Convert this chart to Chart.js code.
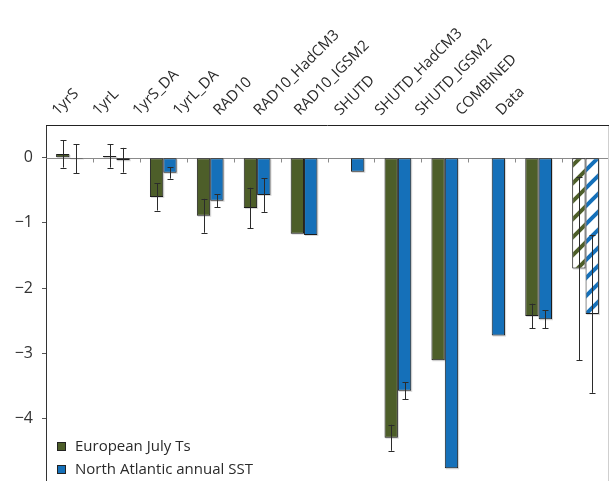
<!DOCTYPE html>
<html>
<head>
<meta charset="utf-8">
<script src="https://cdn.jsdelivr.net/npm/chart.js@4/dist/chart.umd.min.js"></script>
<style>
  html, body { margin: 0; padding: 0; background: #fff; overflow: hidden; }
  #wrap { width: 609px; height: 484px; }
</style>
</head>
<body>
<div id="wrap"><canvas id="c" width="609" height="484"></canvas></div>
<script>
// Experiments and the observed record
const categories = ['1yrS', '1yrL', '1yrS_DA', '1yrL_DA', 'RAD10', 'RAD10_HadCM3',
  'RAD10_IGSM2', 'SHUTD', 'SHUTD_HadCM3', 'SHUTD_IGSM2', 'COMBINED', 'Data'];
const seriesNames = ['European July Ts', 'North Atlantic annual SST'];
const yTickValues = [0, -1, -2, -3, -4];

// Anomalies (°C) for each series
const europeanJulyTs = [0.06, 0.03, -0.60, -0.89, -0.77, -1.165, null, -4.30, -3.11, null, -2.43, -1.70];
const northAtlanticSST = [-0.015, -0.037, -0.23, -0.66, -0.57, -1.185, -0.215, -3.58, -4.77, -2.73, -2.48, -2.40];

// Half-width of the uncertainty range (null = no bar)
const europeanErr = [0.21, 0.18, 0.21, 0.26, 0.31, null, null, 0.20, null, null, 0.19, 1.41];
const northAtlanticErr = [0.225, 0.19, 0.09, 0.10, 0.26, null, null, 0.13, null, null, 0.14, 1.21];

const GREEN = '#4d5e29';
const BLUE = '#1570b9';
const FONT = 'Open Sans, Lato, sans-serif';
const HATCHED_INDEX = categories.indexOf('Data');

function hatch(color) {
  const s = 18;
  const c = document.createElement('canvas');
  c.width = s; c.height = s;
  const g = c.getContext('2d');
  g.fillStyle = '#fff';
  g.fillRect(0, 0, s, s);
  g.strokeStyle = color;
  g.lineWidth = 4;
  g.beginPath();
  g.moveTo(-3, s + 3); g.lineTo(s + 3, -3);
  g.moveTo(-3, 3); g.lineTo(3, -3);
  g.moveTo(s - 3, s + 3); g.lineTo(s + 3, s - 3);
  g.stroke();
  return g.createPattern(c, 'repeat');
}
const greenHatch = hatch(GREEN);
const blueHatch = hatch(BLUE);

const errors = [europeanErr, northAtlanticErr];

// Light drop shadow under each bar
const barShadow = {
  id: 'barShadow',
  beforeDatasetsDraw(chart) {
    const ctx = chart.ctx;
    ctx.save();
    ctx.fillStyle = 'rgba(0,0,0,0.15)';
    chart.data.datasets.forEach((ds, di) => {
      chart.getDatasetMeta(di).data.forEach((bar, i) => {
        if (ds.data[i] == null) return;
        const p = bar.getProps(['x', 'y', 'base', 'width'], true);
        const top = Math.min(p.y, p.base), bot = Math.max(p.y, p.base);
        ctx.fillRect(p.x - p.width / 2 + 1, top + 1, p.width, bot - top);
      });
    });
    ctx.restore();
  }
};

// Zero line with small marks between the categories, plus frame lines
const frame = {
  id: 'frame',
  beforeDatasetsDraw(chart) {
    const { ctx, chartArea: a } = chart;
    const x = chart.scales.x, y = chart.scales.y;
    const y0 = Math.round(y.getPixelForValue(0)) + 0.5;
    ctx.save();
    ctx.strokeStyle = '#8a8a8a';
    ctx.lineWidth = 1;
    ctx.beginPath();
    ctx.moveTo(a.left, y0); ctx.lineTo(a.right, y0);
    for (let i = 1; i < categories.length; i++) {
      const bx = Math.round((x.getPixelForValue(i - 1) + x.getPixelForValue(i)) / 2) + 0.5;
      ctx.moveTo(bx, y0); ctx.lineTo(bx, y0 + 4);
    }
    ctx.stroke();
    ctx.strokeStyle = '#cfcfcf';
    ctx.beginPath();
    ctx.moveTo(a.right - 0.5, a.top); ctx.lineTo(a.right - 0.5, a.bottom);
    ctx.stroke();
    ctx.strokeStyle = '#222';
    ctx.beginPath();
    ctx.moveTo(a.left, Math.round(a.top) + 0.5); ctx.lineTo(a.right, Math.round(a.top) + 0.5);
    ctx.stroke();
    ctx.restore();
  }
};

// Error bars centred on each bar
const errorBars = {
  id: 'errorBars',
  afterDatasetsDraw(chart) {
    const ctx = chart.ctx;
    const y = chart.scales.y;
    ctx.save();
    ctx.strokeStyle = '#2b2b2b';
    ctx.lineWidth = 1;
    chart.data.datasets.forEach((ds, di) => {
      chart.getDatasetMeta(di).data.forEach((bar, i) => {
        const v = ds.data[i], e = errors[di][i];
        if (v == null || e == null) return;
        const cx = Math.round(bar.x) + 0.5;
        const yt = y.getPixelForValue(v + e), yb = y.getPixelForValue(v - e);
        ctx.beginPath();
        ctx.moveTo(cx, yt); ctx.lineTo(cx, yb);
        ctx.moveTo(cx - 3, Math.round(yt) + 0.5); ctx.lineTo(cx + 3, Math.round(yt) + 0.5);
        ctx.moveTo(cx - 3, Math.round(yb) + 0.5); ctx.lineTo(cx + 3, Math.round(yb) + 0.5);
        ctx.stroke();
      });
    });
    ctx.restore();
  }
};

// Legend in the lower-left corner of the plot
const cornerLegend = {
  id: 'cornerLegend',
  afterDraw(chart) {
    const { ctx, chartArea: a } = chart;
    const colors = [GREEN, BLUE];
    ctx.save();
    ctx.font = '15px ' + FONT;
    ctx.textBaseline = 'middle';
    ctx.textAlign = 'left';
    seriesNames.forEach((name, i) => {
      const cy = 446.5 + i * 23;
      ctx.fillStyle = colors[i];
      ctx.fillRect(a.left + 11.5, cy - 4, 8, 8);
      ctx.strokeStyle = '#222';
      ctx.lineWidth = 1;
      ctx.strokeRect(a.left + 11.5, cy - 4, 8, 8);
      ctx.fillStyle = '#2a2a2a';
      ctx.fillText(name, a.left + 29, cy);
    });
    ctx.restore();
  }
};

new Chart(document.getElementById('c'), {
  type: 'bar',
  data: {
    labels: categories,
    datasets: [
      {
        label: seriesNames[0],
        data: europeanJulyTs,
        backgroundColor: ctx => ctx.dataIndex === HATCHED_INDEX ? greenHatch : GREEN,
        borderColor: '#1c1c1c',
        borderWidth: 1,
        borderSkipped: false
      },
      {
        label: seriesNames[1],
        data: northAtlanticSST,
        backgroundColor: ctx => ctx.dataIndex === HATCHED_INDEX ? blueHatch : BLUE,
        borderColor: '#1c1c1c',
        borderWidth: 1,
        borderSkipped: false
      }
    ]
  },
  options: {
    responsive: false,
    animation: false,
    devicePixelRatio: 1,
    categoryPercentage: 0.57,
    barPercentage: 1,
    layout: { padding: { left: 0, right: 0, top: 0, bottom: 0.7 } },
    plugins: { legend: { display: false }, tooltip: { enabled: false } },
    scales: {
      x: { type: 'category', display: false, offset: true },
      // Slanted experiment names along the top, on their own spacing
      labelsTop: {
        type: 'linear',
        position: 'top',
        axis: 'x',
        offset: false,
        bounds: 'data',
        min: -0.533,
        max: 13.417,
        afterBuildTicks: s => { s.ticks = categories.map((c, i) => ({ value: i })); },
        afterFit: s => { s.height = 125.3; s.paddingLeft = 0; s.paddingRight = 0; },
        grid: { display: false, drawTicks: false, offset: false },
        border: { display: false },
        ticks: {
          autoSkip: false,
          minRotation: 45,
          maxRotation: 45,
          padding: 6,
          color: '#2a2a2a',
          font: { family: FONT, size: 15 },
          callback: v => categories[v]
        }
      },
      y: {
        min: -5,
        max: 0.5,
        afterBuildTicks: s => { s.ticks = yTickValues.map(v => ({ value: v })); },
        afterFit: s => { s.width = 46; s.paddingTop = 0; s.paddingBottom = 0; },
        grid: { drawOnChartArea: false, drawTicks: true, tickLength: 4, color: '#555' },
        border: { display: true, color: '#333', width: 1 },
        ticks: {
          padding: 9,
          color: '#333',
          font: { family: FONT, size: 16 },
          callback: v => v < 0 ? '\u2212' + Math.abs(v) : String(v)
        }
      }
    }
  },
  plugins: [barShadow, frame, errorBars, cornerLegend]
});
</script>
</body>
</html>
